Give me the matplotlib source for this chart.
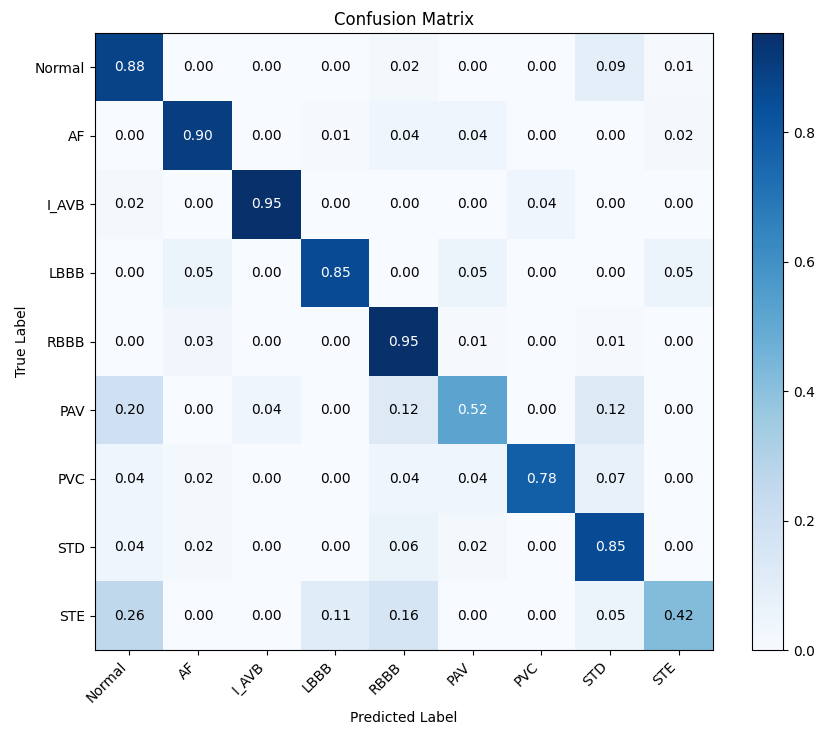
import numpy as np
import matplotlib
matplotlib.use("Agg")
import matplotlib.pyplot as plt

labels = ["Normal", "AF", "I_AVB", "LBBB", "RBBB", "PAV", "PVC", "STD", "STE"]
row_normal = [0.88, 0.00, 0.00, 0.00, 0.02, 0.00, 0.00, 0.09, 0.01]
row_af     = [0.00, 0.90, 0.00, 0.01, 0.04, 0.04, 0.00, 0.00, 0.02]
row_iavb   = [0.02, 0.00, 0.953, 0.00, 0.00, 0.00, 0.04, 0.00, 0.00]
row_lbbb   = [0.00, 0.05, 0.00, 0.85, 0.00, 0.05, 0.00, 0.00, 0.05]
row_rbbb   = [0.00, 0.03, 0.00, 0.00, 0.95, 0.01, 0.00, 0.01, 0.00]
row_pav    = [0.20, 0.00, 0.04, 0.00, 0.12, 0.52, 0.00, 0.12, 0.00]
row_pvc    = [0.04, 0.02, 0.00, 0.00, 0.04, 0.04, 0.78, 0.07, 0.00]
row_std    = [0.04, 0.02, 0.00, 0.00, 0.06, 0.02, 0.00, 0.85, 0.00]
row_ste    = [0.26, 0.00, 0.00, 0.11, 0.16, 0.00, 0.00, 0.05, 0.42]

cm = np.array([row_normal, row_af, row_iavb, row_lbbb, row_rbbb,
               row_pav, row_pvc, row_std, row_ste])

fig = plt.figure(figsize=(8.31, 7.39), dpi=100)
ax = fig.add_axes([95/831, 89/739, 618/831, 617/739])
cax = fig.add_axes([752/831, 89/739, 31/831, 617/739])

im = ax.imshow(cm, interpolation="nearest", cmap="Blues", aspect="auto")
fig.colorbar(im, cax=cax)

ax.set_xticks(np.arange(len(labels)))
ax.set_yticks(np.arange(len(labels)))
ax.set_xticklabels(labels, rotation=45, ha="right", rotation_mode="default")
ax.set_yticklabels(labels)
ax.set_xlabel("Predicted Label")
ax.set_ylabel("True Label")
ax.set_title("Confusion Matrix")

thresh = cm.max() / 2.0
for i in range(cm.shape[0]):
    for j in range(cm.shape[1]):
        ax.text(j, i, f"{cm[i, j]:.2f}", ha="center", va="center",
                color="white" if cm[i, j] > thresh else "black")

fig.savefig("out.png", dpi=100)
